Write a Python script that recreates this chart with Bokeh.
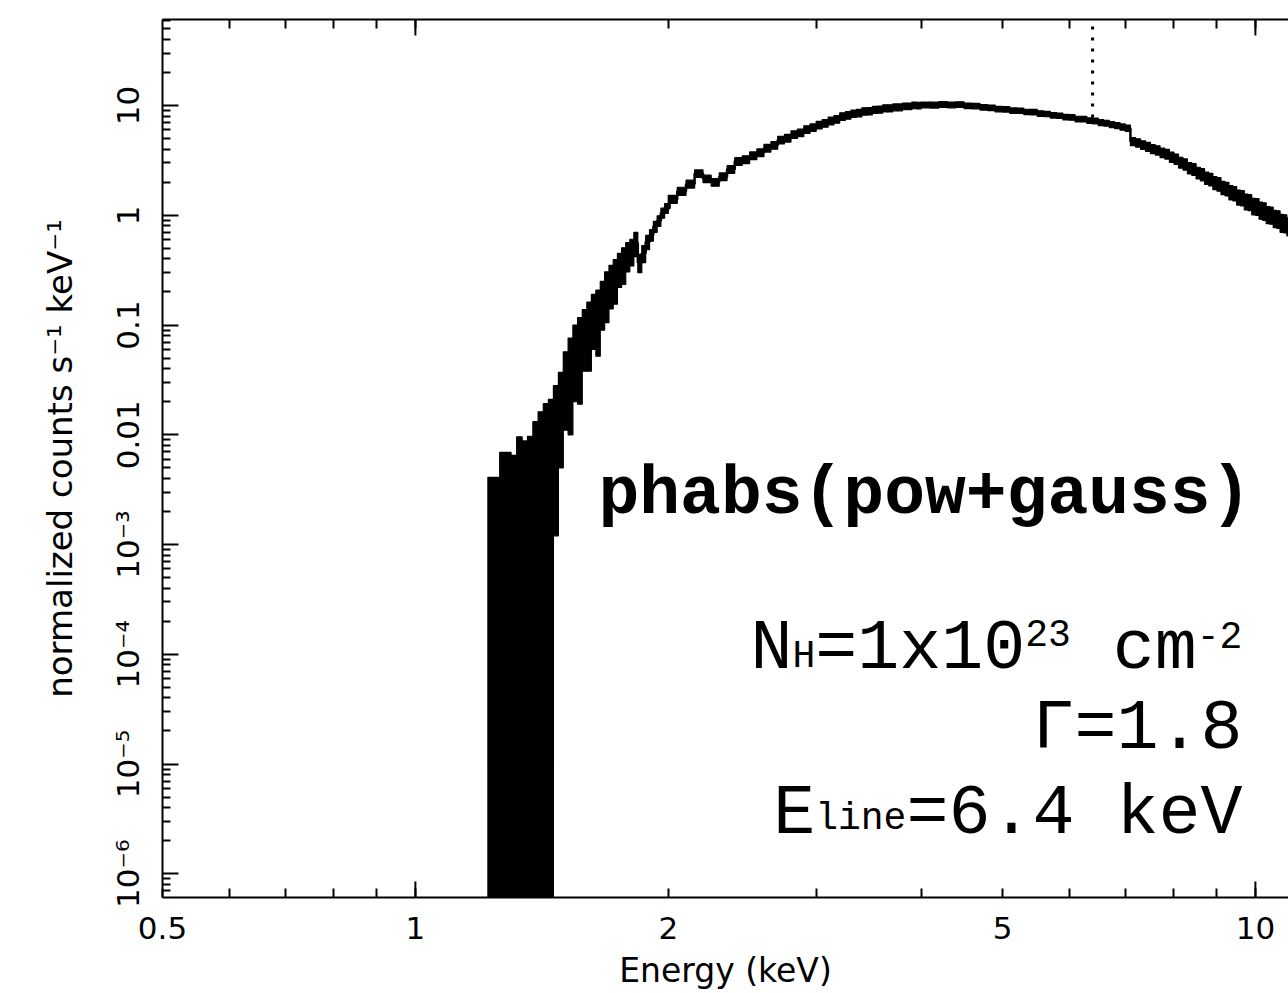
import numpy as np
from bokeh.plotting import figure
from bokeh.models import Range1d, LogAxis, FixedTicker, ColumnDataSource
from bokeh.core.properties import value
from bokeh.embed import file_html
from bokeh.resources import INLINE

# ---------------- data ----------------
# channel bin edges (keV)
edges_soft = [1.22, 1.24, 1.26, 1.28, 1.30, 1.32, 1.34, 1.36, 1.38, 1.40,
              1.42, 1.44, 1.46, 1.48, 1.50, 1.52, 1.54, 1.56, 1.58, 1.60,
              1.62, 1.64, 1.66, 1.68, 1.70, 1.72, 1.74, 1.76, 1.78, 1.80,
              1.82, 1.84, 1.86, 1.88, 1.90, 1.92, 1.94, 1.96, 1.98, 2.00]
edges_mid = [2.05, 2.10, 2.15, 2.20, 2.25, 2.30, 2.35, 2.40, 2.45, 2.50,
             2.55, 2.60, 2.65, 2.70, 2.75, 2.80, 2.85, 2.90, 2.95, 3.00,
             3.05, 3.10, 3.15, 3.20, 3.25, 3.30, 3.35, 3.40, 3.45, 3.50,
             3.55, 3.60, 3.65, 3.70, 3.75, 3.80, 3.85, 3.90, 3.95, 4.00]
edges_hard = [4.1, 4.2, 4.3, 4.4, 4.5, 4.6, 4.7, 4.8, 4.9, 5.0,
              5.1, 5.2, 5.3, 5.4, 5.5, 5.6, 5.7, 5.8, 5.9, 6.0,
              6.1, 6.2, 6.3, 6.4, 6.5, 6.6, 6.7, 6.8, 6.9, 7.0,
              7.1, 7.2, 7.3, 7.4, 7.5, 7.6, 7.7, 7.8, 7.9, 8.0,
              8.1, 8.2, 8.3, 8.4, 8.5, 8.6, 8.7, 8.8, 8.9, 9.0,
              9.1, 9.2, 9.3, 9.4, 9.5, 9.6, 9.7, 9.8, 9.9, 10.0,
              10.1, 10.2, 10.3, 10.4, 10.5, 10.6, 10.7, 10.8, 10.9, 11.0]

# normalized counts s^-1 keV^-1 and 1-sigma errors per bin
rate_soft = [0.0020, 0.0019, 0.0034, 0.0033, 0.0031, 0.0047, 0.0042, 0.0047, 0.0064, 0.0080,
             0.0095, 0.0104, 0.0146, 0.0210, 0.0340, 0.0430, 0.0600, 0.0680, 0.0880, 0.1000,
             0.1250, 0.1300, 0.1700, 0.2050, 0.2450, 0.2750, 0.3350, 0.3700, 0.4350, 0.4750,
             0.5600, 0.3700, 0.4500, 0.5700, 0.6600, 0.7900, 0.8900, 1.0500, 1.1600]
err_soft = [0.0021, 0.0022, 0.0035, 0.0036, 0.0034, 0.0049, 0.0046, 0.0050, 0.0068, 0.0082,
            0.0097, 0.0106, 0.0134, 0.0160, 0.0230, 0.0330, 0.0400, 0.0490, 0.0500, 0.0620,
            0.0650, 0.0780, 0.0800, 0.1000, 0.1050, 0.1200, 0.1150, 0.1350, 0.1300, 0.1300,
            0.1400, 0.0700, 0.0800, 0.0850, 0.0800, 0.0900, 0.1000, 0.1100, 0.1200]
rate_mid = [1.40, 1.66, 1.93, 2.40, 2.15, 2.00, 2.25, 2.62, 3.10, 3.22,
            3.50, 3.72, 4.10, 4.35, 4.85, 5.05, 5.45, 5.65, 6.05, 6.30,
            6.65, 6.90, 7.25, 7.50, 7.95, 8.15, 8.45, 8.55, 8.85, 8.90,
            9.15, 9.20, 9.45, 9.45, 9.65, 9.65, 9.85, 9.85, 10.05, 10.00]
err_mid = [0.12, 0.14, 0.16, 0.19, 0.17, 0.16, 0.18, 0.21, 0.25, 0.26,
           0.28, 0.30, 0.33, 0.35, 0.39, 0.40, 0.44, 0.45, 0.48, 0.50,
           0.53, 0.55, 0.58, 0.60, 0.64, 0.65, 0.66, 0.67, 0.68, 0.68,
           0.69, 0.69, 0.70, 0.70, 0.70, 0.70, 0.70, 0.70, 0.70, 0.70]
rate_hard = [10.15, 10.10, 10.25, 10.15, 10.20, 9.95, 9.90, 9.65, 9.55, 9.30,
             9.25, 9.00, 8.98, 8.75, 8.72, 8.45, 8.38, 8.15, 8.08, 7.85,
             7.80, 7.55, 7.52, 7.30, 7.25, 7.00, 6.92, 6.70, 6.58, 6.38,
             6.22, 4.70, 4.58, 4.38, 4.22, 4.02, 3.92, 3.72, 3.62, 3.40,
             3.26, 3.03, 2.92, 2.70, 2.63, 2.44, 2.36, 2.19, 2.13, 1.98,
             1.93, 1.79, 1.75, 1.62, 1.59, 1.47, 1.45, 1.34, 1.32, 1.22,
             1.21, 1.12, 1.10, 1.02, 1.01, 0.94, 0.93, 0.86, 0.85, 0.80]
err_hard = [0.62, 0.62, 0.62, 0.61, 0.60, 0.58, 0.57, 0.56, 0.55, 0.54,
            0.53, 0.52, 0.51, 0.50, 0.50, 0.49, 0.48, 0.47, 0.46, 0.46,
            0.45, 0.44, 0.44, 0.43, 0.43, 0.43, 0.42, 0.42, 0.42, 0.42,
            0.42, 0.40, 0.40, 0.39, 0.39, 0.38, 0.38, 0.37, 0.37, 0.36,
            0.35, 0.34, 0.34, 0.32, 0.32, 0.30, 0.30, 0.28, 0.28, 0.27,
            0.27, 0.25, 0.25, 0.24, 0.24, 0.23, 0.23, 0.22, 0.22, 0.21,
            0.21, 0.20, 0.20, 0.18, 0.18, 0.17, 0.17, 0.16, 0.16, 0.15]

# gaussian line (model) at 6.4 keV, drawn dotted from the continuum upward
line_energy = [6.4]
line_base = [7.8]

# axis ticks
x_tick_values = [0.5, 1, 2, 5, 10]
x_tick_labels = ["0.5", "1", "2", "5", "10"]
x_minor_values = [0.6, 0.7, 0.8, 0.9, 3, 4, 6, 7, 8, 9]
x_top_ticks = [0.6, 0.7, 0.8, 0.9, 1, 2, 3, 4, 5, 6, 7, 8, 9, 10]
x_long_ticks = [1, 10]
y_tick_values = [1e-6, 1e-5, 1e-4, 1e-3, 0.01, 0.1, 1, 10]
y_tick_labels = ["10\u207b\u2076", "10\u207b\u2075", "10\u207b\u2074", "10\u207b\u00b3",
                 "0.01", "0.1", "1", "10"]

x_lo, x_hi = 0.5, 10.95
y_lo, y_hi = 6.08e-7, 60.8

# annotation text
model_name = "phabs(pow+gauss)"
param_lines = [
    [("N", "big", 0), ("H", "small", 7), ("=1x10", "big", 0), ("23", "small", -17),
     (" cm", "big", 0), ("-2", "small", -15)],
    [("\u0393=1.8", "big", 0)],
    [("E", "big", 0), ("line", "small", 4), ("=6.4 keV", "big", 0)],
]
param_baselines = [1.1e-4, 2.07e-5, 3.47e-6]
param_anchor_energy = 9.65
model_name_pos = (1.652, 2.86e-3)

# ---------------- figure ----------------
p = figure(width=1288, height=993, x_axis_type="log", y_axis_type="log",
           x_range=Range1d(x_lo, x_hi), y_range=Range1d(y_lo, y_hi),
           output_backend="svg", toolbar_location=None,
           min_border_left=162, min_border_right=0, min_border_top=19,
           min_border_bottom=96)
p.outline_line_color = None
p.grid.visible = False
p.background_fill_color = "white"
p.border_fill_color = "white"

TICK_FONT = "DejaVu Sans"

xax = p.xaxis[0]
xax.ticker = FixedTicker(ticks=x_tick_values, minor_ticks=x_minor_values)
xax.major_label_overrides = {v: t for v, t in zip(x_tick_values, x_tick_labels)}
yax = p.yaxis[0]
yax.ticker = FixedTicker(ticks=y_tick_values,
                         minor_ticks=[m * 10.0 ** k for k in range(-7, 2) for m in range(2, 10)])
yax.major_label_overrides = {v: t for v, t in zip(y_tick_values, y_tick_labels)}
yax.major_label_orientation = "vertical"

top = LogAxis(ticker=FixedTicker(ticks=[], minor_ticks=x_top_ticks))
p.add_layout(top, "above")

for ax in (xax, yax, top):
    ax.axis_line_width = 2
    ax.axis_line_color = "black"
    ax.major_tick_line_width = 2
    ax.minor_tick_line_width = 2
    ax.major_tick_line_color = "black"
    ax.minor_tick_line_color = "black"
    ax.major_tick_out = 0
    ax.minor_tick_out = 0
    ax.major_label_text_font = TICK_FONT
    ax.major_label_text_color = "black"
    ax.axis_label_text_font = TICK_FONT
    ax.axis_label_text_font_style = "normal"
    ax.axis_label_text_color = "black"

for ax in (xax, top):
    ax.major_tick_in = 9
    ax.minor_tick_in = 9
yax.major_tick_in = 16
yax.minor_tick_in = 8

xax.major_label_text_font_size = "31px"
xax.major_label_standoff = 19
xax.axis_label = "Energy (keV)"
xax.axis_label_text_font_size = "33px"
xax.axis_label_standoff = 9

yax.major_label_text_font_size = "31px"
yax.major_label_standoff = 16
yax.axis_label = "normalized counts s\u207b\u00b9 keV\u207b\u00b9"
yax.axis_label_text_font_size = "34px"
yax.axis_label_standoff = 28

# long decade ticks on bottom and top x axes
p.ray(x=x_long_ticks, y=[y_lo] * len(x_long_ticks), length=16, length_units="screen",
      angle=np.pi / 2, line_color="black", line_width=2)
p.ray(x=x_long_ticks, y=[y_hi] * len(x_long_ticks), length=16, length_units="screen",
      angle=-np.pi / 2, line_color="black", line_width=2)

# ---------------- spectrum ----------------
edges = np.array(edges_soft + edges_mid + edges_hard)
rate = np.array(rate_soft + rate_mid + rate_hard)
err = np.array(err_soft + err_mid + err_hard)
floor = y_lo / 10.0
src = ColumnDataSource(dict(
    left=edges[:-1], right=edges[1:],
    center=0.5 * (edges[:-1] + edges[1:]), rate=rate,
    bottom=np.maximum(rate - err, floor), top=rate + err,
))
p.quad(left="left", right="right", bottom="bottom", top="top", source=src,
       fill_color="black", line_color="black", line_width=1.2)
p.step(x="center", y="rate", source=src, mode="center",
       line_color="black", line_width=2.5)

# gaussian line of the model (dotted)
p.segment(x0=line_energy, y0=line_base, x1=line_energy, y1=[y_hi * 10],
          line_color="black", line_width=3, line_dash="3 8")

# ---------------- annotations ----------------
p.text(x=[model_name_pos[0]], y=[model_name_pos[1]], text=[model_name],
       text_font=value("Liberation Mono"), text_font_style="bold",
       text_font_size="68px", text_color="black",
       text_align="left", text_baseline="alphabetic")

BIG, SMALL = 70, 38
sizes = {"big": BIG, "small": SMALL}
pieces_out = {"big": dict(x=[], y=[], text=[], xo=[], yo=[]),
              "small": dict(x=[], y=[], text=[], xo=[], yo=[])}
for pieces, base in zip(param_lines, param_baselines):
    widths = [0.6 * sizes[s] * len(t) for t, s, _ in pieces]
    total = sum(widths)
    cum = 0.0
    for (t, s, dy), w in zip(pieces, widths):
        lead = len(t) - len(t.lstrip(" "))
        d = pieces_out[s]
        d["x"].append(param_anchor_energy)
        d["y"].append(base)
        d["text"].append(t.lstrip(" "))
        d["xo"].append(cum + lead * 0.6 * sizes[s] - total)
        d["yo"].append(dy)
        cum += w
for key in ("big", "small"):
    p.text(x="x", y="y", text="text", source=ColumnDataSource(pieces_out[key]),
           x_offset="xo", y_offset="yo", text_font=value("Liberation Mono"),
           text_font_size=f"{sizes[key]}px",
           text_color="black", text_align="left", text_baseline="alphabetic")

open("out.html", "w").write(file_html(p, INLINE))
